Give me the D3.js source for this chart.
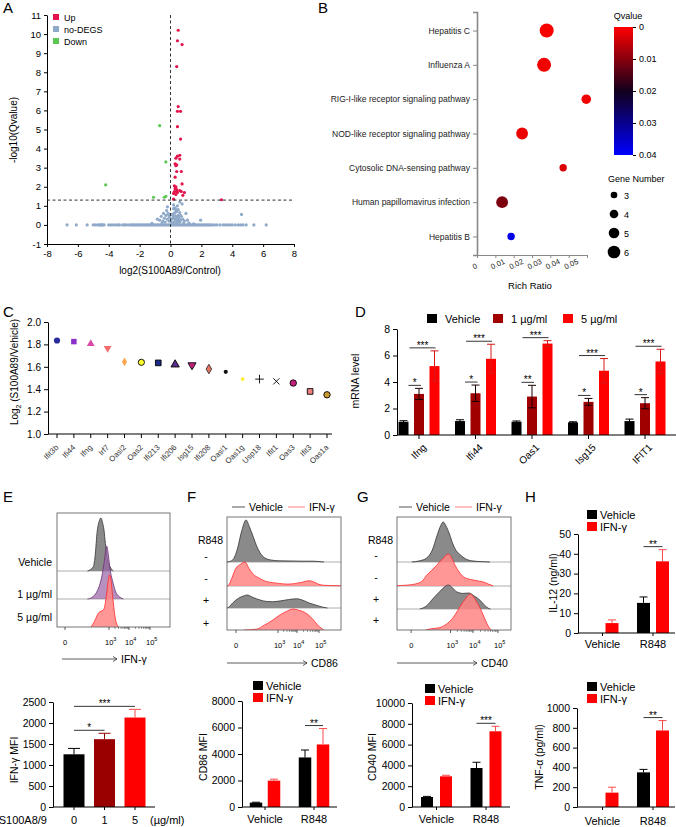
<!DOCTYPE html>
<html>
<head>
<meta charset="utf-8">
<script src="https://cdn.jsdelivr.net/npm/d3@7"></script>
<style>
  body { margin: 0; background: #fff; }
</style>
</head>
<body>
<script>
const FONT = "'Liberation Sans', Arial, Helvetica, sans-serif";

// ---------------- data ----------------
// A: volcano
const volcanoUp = [[0.5,10.2],[0.45,9.65],[0.75,9.45],[0.4,8.3],[0.5,6.2],[0.45,5.95],[0.65,5.95],[0.45,5.15],[0.65,4.5],[0.6,3.65],[0.45,3.6],[0.35,3.5],[0.6,3.45],[0.3,3.2],[0.4,3.15],[0.35,3.1],[0.4,2.8],[0.7,2.8],[0.3,2.5],[0.75,2.15],[0.25,2.05],[0.35,2.0],[0.3,1.9],[0.4,1.85],[0.25,1.75],[0.4,1.75],[0.6,1.8],[0.9,1.7],[0.45,1.7],[0.7,1.75],[0.2,1.65],[0.35,1.6],[0.8,1.55],[0.2,1.35],[3.3,1.32]];
const volcanoDown = [[-0.7,5.2],[-0.3,3.3],[-4.2,2.1],[-1.1,1.45],[-0.4,1.45],[-0.3,1.5]];
const volcanoNone = [
  [-6.7,0],[-6.1,0],[-5.4,0],[-5.0,0],[-4.85,0],[-4.7,0],[-4.6,0],[-4.5,0],[-4.45,0],[-4.4,0],[-4.3,0],[-4.0,0],[-3.85,0],[-3.7,0],[-3.55,0],[-3.4,0],[-3.3,0],[-3.1,0],[-3.0,0],[-2.9,0],[-2.75,0],[-2.6,0],
  [-2.5,0],[-2.4,0],[-2.3,0],[-2.2,0],[-2.1,0],[-2.0,0],[-1.9,0],[-1.8,0],[-1.7,0],[-1.6,0],[-1.5,0],[-1.4,0],[-1.3,0],[-1.2,0],[-1.1,0],[-1.0,0],[-0.9,0],[-0.8,0],[-0.7,0],[-0.6,0],[-0.5,0],[-0.4,0],[-0.3,0],[-0.2,0],[-0.1,0],
  [0,0],[0.1,0],[0.2,0],[0.3,0],[0.4,0],[0.5,0],[0.6,0],[0.7,0],[0.8,0],[0.9,0],[1.0,0],[1.1,0],[1.2,0],[1.3,0],[1.4,0],[1.5,0],[1.6,0],[1.7,0],[1.8,0],[1.9,0],[2.0,0],[2.1,0],[2.2,0],[2.3,0],[2.4,0],[2.5,0],
  [2.6,0],[2.7,0],[2.85,0],[3.0,0],[3.2,0],[3.4,0],[3.55,0],[3.7,0],[3.85,0],[4.0,0],[4.2,0],[4.4,0],[4.55,0],[4.7,0],[4.9,0],[5.4,0],[6.2,0],
  [-1.2,0.08],[-0.85,0.3],[-0.7,0.25],[-0.6,0.45],[-0.55,0.1],[-0.5,0.2],[-0.45,0.6],[-0.4,0.35],[-0.35,0.15],[-0.3,0.5],[-0.25,0.75],[-0.2,0.95],[-0.2,0.3],[-0.15,0.6],[-0.1,0.2],[-0.05,0.4],
  [0.05,0.15],[0.1,0.55],[0.15,0.35],[0.2,0.85],[0.2,1.05],[0.25,0.6],[0.3,0.3],[0.3,0.9],[0.35,0.45],[0.4,0.7],[0.45,0.2],[0.45,1.0],[0.5,0.5],[0.55,0.35],[0.6,0.65],[0.65,0.25],[0.7,0.45],
  [0.75,1.1],[0.8,0.3],[0.85,0.1],[0.9,0.2],[1.0,0.6],[1.1,0.25],[1.2,0.1],[0.6,1.2],[1.5,0.05],[1.95,0.25],[4.6,0.55],[0.25,0.15],[0.35,0.25],[0.4,0.1],[0.5,0.3],[0.55,0.15],[0.15,0.1],
  [0.3,0.65],[0.45,0.4],[0.6,0.15],[0.65,0.5],[0.2,0.45],[0.1,0.3],[-0.1,0.5],[0.35,0.8],[0.5,0.8]
];
const volcanoXTicks = [-8,-6,-4,-2,0,2,4,6,8];
const volcanoYTicks = [-1,0,1,2,3,4,5,6,7,8,9,10,11];

// B: KEGG enrichment
const pathways = ["Hepatitis C","Influenza A","RIG-I-like receptor signaling pathway","NOD-like receptor signaling pathway","Cytosolic DNA-sensing pathway","Human papillomavirus infection","Hepatitis B"];
const richRatio = [0.038,0.0366,0.0596,0.0246,0.047,0.0137,0.0186];
const qvalue = [0.0005,0.001,0.001,0.0015,0.003,0.011,0.038];
const geneNumber = [6,6,4,5,3,5,3];
const richTicks = [0,0.01,0.02,0.03,0.04,0.05,0.06];
const qTicks = [0,0.01,0.02,0.03,0.04];
const geneLegend = [3,4,5,6];

// C: fold change
const cGenes = ["Ifit3b","Ifi44","Ifng","Irf7","Oasl2","Oas2","Ifi213","Ifi206","Isg15","Ifi208","Oasl1","Oas1g","Usp18","Ifit1","Oas3","Ifit3","Oas1a"];
const cValues = [1.835,1.825,1.805,1.765,1.645,1.64,1.635,1.62,1.615,1.58,1.555,1.49,1.49,1.47,1.455,1.38,1.35];
const cTicks = [1.0,1.2,1.4,1.6,1.8,2.0];

// D: qPCR
const dGenes = ["Ifng","Ifi44","Oas1","Isg15","IFIT1"];
const dDoses = ["Vehicle","1 µg/ml","5 µg/ml"];
const dMean = [[1.0,1.05,1.0,0.95,1.05],[3.1,3.15,2.9,2.5,2.4],[5.2,5.75,6.9,4.85,5.55]];
const dErr = [[0.08,0.1,0.06,0.05,0.15],[0.42,0.62,0.85,0.26,0.42],[1.15,1.1,0.22,0.92,0.92]];
const dStarsLow = ["*","*","**","*","*"];
const dStarsHigh = ["***","***","***","***","***"];
const dTicks = [0,2,4,6,8];

// E-G: flow histograms (x in channel units 0-1000 across the plot, y in % of scale)
const eRows = ["Vehicle","1 µg/ml","5 µg/ml"];
const eHist = [
  [[270,0],[321,8],[336,26],[357,77],[375,95],[389,100],[402,92],[416,77],[428,52],[440,30],[455,15],[469,8],[498,0]],
  [[270,0],[310,3],[351,13],[375,25],[395,41],[419,72],[432,92],[440,100],[450,90],[469,57],[498,29],[520,13],[543,6],[587,0]],
  [[300,0],[330,10],[366,26],[390,30],[410,32],[425,42],[440,64],[455,90],[465,98],[475,92],[493,57],[513,20],[530,5],[545,0]]
];
const eTickCh = [71,460,637,823];
const fgRows = ["-","-","+","+"];
const fHist = [
  [[0,0],[20,1],[50,5],[90,30],[130,75],[167,100],[195,85],[230,60],[260,38],[290,22],[330,10],[380,5],[450,3],[550,2.5],[650,2],[750,2],[830,0.5],[850,0]],
  [[0,0],[15,2],[40,17],[80,43],[120,52],[158,57],[190,43],[230,28],[280,19],[340,11],[400,8],[460,6],[530,4.5],[600,6],[660,9],[720,12.5],[760,10],[800,4.5],[850,1.7],[1000,0.5]],
  [[0,0],[15,2],[50,12],[100,23],[150,29],[175,31],[230,25],[290,19],[350,15.5],[406,15],[470,17],[540,20],[611,22],[660,19],[720,12],[790,6],[840,2],[880,0]],
  [[150,0],[260,2],[330,12],[404,24],[460,35],[520,44],[579,50],[630,47],[680,42],[730,32],[770,20],[810,8],[850,0]]
];
const fTickCh = [79,447,614,807];
const gHist = [
  [[130,0],[200,3],[260,10],[310,30],[350,65],[385,92],[406,100],[430,90],[460,70],[490,45],[520,28],[555,18],[600,8],[655,3],[730,1],[816,0]],
  [[0,1],[80,2],[160,5],[220,12],[260,27],[300,38],[348,52],[400,68],[450,80],[480,70],[509,52],[545,35],[582,23],[620,18],[670,15],[720,12],[758,10],[800,5],[845,0]],
  [[200,0],[260,8],[319,27],[380,45],[420,56],[450,60],[490,52],[523,43],[580,39],[630,40],[680,32],[728,22],[770,9],[800,2],[820,0]],
  [[250,0],[300,3],[377,6],[420,12],[465,22],[510,38],[552,58],[600,78],[640,90],[665,85],[700,70],[728,55],[760,35],[787,17],[810,5],[830,0]]
];
const gTickCh = [124,470,667,886];
const flowTickLabels = [["0",""],["10","3"],["10","4"],["10","5"]];

// E-H: bar charts
const eDoses = ["0","1","5"];
const eMean = [1255,1615,2130];
const eErr = [140,140,195];
const stimCats = ["Vehicle","R848"];
const cd86Veh = [330,3740], cd86VehErr = [30,560];
const cd86Ifn = [1990,4720], cd86IfnErr = [110,1200];
const cd40Veh = [960,3750], cd40VehErr = [60,550];
const cd40Ifn = [2950,7280], cd40IfnErr = [100,480];
const il12Veh = [0,15.2], il12VehErr = [0,3];
const il12Ifn = [5,36.2], il12IfnErr = [1.6,5.9];
const tnfVeh = [0,350], tnfVehErr = [0,30];
const tnfIfn = [145,773], tnfIfnErr = [55,100];

// ---------------- drawing ----------------
const svg = d3.select("body").append("svg")
  .attr("width", 676).attr("height", 827)
  .attr("font-family", FONT);

function text(g, x, y, s, size = 10, anchor = "start") {
  return g.append("text").attr("x", x).attr("y", y)
    .attr("font-size", size).attr("text-anchor", anchor).text(s);
}
function vtext(g, x, y, s, size = 10) {
  return g.append("text").attr("transform", `translate(${x},${y}) rotate(-90)`)
    .attr("text-anchor", "middle").attr("font-size", size).text(s);
}
function tidy(a, size, color = "#000") {
  a.attr("font-family", FONT).attr("font-size", size);
  a.selectAll("text").attr("fill", "#000");
  a.selectAll(".domain, .tick line").attr("stroke", color);
  return a;
}

// panel letters
[["A",3,13],["B",318,13],["C",3,317],["D",355,317],["E",3,502],["F",187,502],["G",357,502],["H",525,502]]
  .forEach(([l, x, y]) => text(svg, x, y, l, 15));

// ---- A ----
{
  const g = svg.append("g");
  const x = d3.scaleLinear().domain([-8, 8]).range([47, 294]);
  const y = d3.scaleLinear().domain([-1, 11]).range([244, 15]);
  tidy(g.append("g").attr("transform", "translate(0,244)")
    .call(d3.axisBottom(x).tickValues(volcanoXTicks).tickSize(3).tickSizeOuter(0).tickFormat(d => String(d))), 9.5);
  tidy(g.append("g").attr("transform", "translate(47,0)")
    .call(d3.axisLeft(y).tickValues(volcanoYTicks).tickSize(3).tickSizeOuter(0).tickFormat(d => String(d))), 9.5);

  const pts = [[volcanoNone, "#8fa9c9"], [volcanoDown, "#5cc853"], [volcanoUp, "#e3134b"]];
  pts.forEach(([data, col]) => {
    g.append("g").selectAll("circle").data(data).join("circle")
      .attr("cx", d => x(d[0])).attr("cy", d => y(d[1])).attr("r", 1.6).attr("fill", col);
  });
  g.append("line").attr("x1", x(0)).attr("x2", x(0)).attr("y1", y(11)).attr("y2", y(-1))
    .attr("stroke", "#333").attr("stroke-dasharray", "3,2.5");
  g.append("line").attr("x1", x(-8)).attr("x2", x(8)).attr("y1", y(1.3)).attr("y2", y(1.3))
    .attr("stroke", "#333").attr("stroke-dasharray", "3,2.5");

  [["Up", "#e3134b"], ["no-DEGS", "#8fa9c9"], ["Down", "#5cc853"]].forEach(([n, c], i) => {
    g.append("rect").attr("x", 53).attr("y", 14 + i * 12).attr("width", 6).attr("height", 6).attr("fill", c);
    text(g, 64, 20.5 + i * 12, n, 9);
  });
  text(g, 170, 274, "log2(S100A89/Control)", 10, "middle");
  vtext(g, 17, 130, "-log10(Qvalue)", 10);
}

// ---- B ----
{
  const g = svg.append("g");
  const y = d3.scalePoint().domain(pathways).range([12, 255]).padding(0.54);
  const x = d3.scaleLinear().domain([0, 0.06]).range([477, 587]);
  const r = d3.scaleLinear().domain([3, 6]).range([3.7, 7]);
  const col = d3.scaleLinear().domain([0, 0.02, 0.04]).range(["#ff0000", "#12001c", "#0000ff"]);

  const ya = tidy(g.append("g").attr("transform", "translate(477,0)")
    .call(d3.axisLeft(y).tickSize(4).tickSizeOuter(4)), 8.5, "#888");
  ya.select(".domain").attr("stroke-width", 1.6);
  ya.selectAll("text").attr("fill", "#222");

  const xa = tidy(g.append("g").attr("transform", "translate(0,255)")
    .call(d3.axisBottom(x).tickValues(richTicks).tickSize(3).tickSizeOuter(0)
      .tickFormat(d => d === 0.06 ? "" : (d === 0 ? "0" : d.toFixed(2)))), 7.5, "#888");
  xa.selectAll("text").attr("text-anchor", "start").attr("dy", 0)
    .attr("transform", "translate(-6,9) rotate(-25)").attr("fill", "#222");

  g.append("g").selectAll("circle").data(pathways).join("circle")
    .attr("cx", (d, i) => x(richRatio[i])).attr("cy", d => y(d))
    .attr("r", (d, i) => r(geneNumber[i])).attr("fill", (d, i) => col(qvalue[i]));

  text(g, 530, 289, "Rich Ratio", 9.5, "middle");

  // colour bar
  const grad = svg.append("defs").append("linearGradient").attr("id", "qgrad")
    .attr("x1", 0).attr("x2", 0).attr("y1", 0).attr("y2", 1);
  [0, 0.5, 1].forEach(o => grad.append("stop").attr("offset", o).attr("stop-color", col(o * 0.04)));
  const cy = d3.scaleLinear().domain([0, 0.04]).range([27, 155]);
  g.append("rect").attr("x", 614).attr("y", 27).attr("width", 19).attr("height", 128).attr("fill", "url(#qgrad)");
  const ca = tidy(g.append("g").attr("transform", "translate(633,0)")
    .call(d3.axisRight(cy).tickValues(qTicks).tickSize(3).tickSizeOuter(0)
      .tickFormat(d => d === 0 ? "0" : d.toFixed(2))), 9, "#000");
  ca.select(".domain").remove();
  text(g, 628, 19, "Qvalue", 9, "middle");

  text(g, 608, 182, "Gene Number", 9);
  const ly = d3.scalePoint().domain(geneLegend).range([195, 252]);
  geneLegend.forEach(n => {
    g.append("circle").attr("cx", 614).attr("cy", ly(n)).attr("r", r(n) * 0.9).attr("fill", "#000");
    text(g, 624, ly(n) + 3.5, String(n), 9);
  });
}

// ---- C ----
{
  const g = svg.append("g");
  const x = d3.scalePoint().domain(cGenes).range([57, 327]);
  const y = d3.scaleLinear().domain([1, 2]).range([434, 322]);
  tidy(g.append("g").attr("transform", "translate(48,0)")
    .call(d3.axisLeft(y).tickValues(cTicks).tickSize(4).tickSizeOuter(0).tickFormat(d3.format(".1f"))), 10);
  g.append("line").attr("x1", 48).attr("x2", 332).attr("y1", 434).attr("y2", 434).attr("stroke", "#000");
  g.append("g").selectAll("line").data(cGenes).join("line")
    .attr("x1", d => x(d)).attr("x2", d => x(d)).attr("y1", 434).attr("y2", 438).attr("stroke", "#000");
  g.append("g").selectAll("text").data(cGenes).join("text")
    .attr("transform", d => `translate(${x(d) + 2},${448}) rotate(-45)`)
    .attr("text-anchor", "end").attr("font-size", 7.8).attr("fill", "#333").text(d => d);

  const marks = [
    ["circle", "#2a2a9c", "none", 30], ["square", "#8b2fc9", "none", 30], ["triangle", "#d94aa8", "none", 26],
    ["triDown", "#f26b6b", "none", 26], ["diamond", "#ffa64d", "none", 22], ["circle", "#ffff2e", "#000", 30],
    ["square", "#1c2a8a", "#000", 32], ["triangle", "#5a2d8c", "#000", 30], ["triDown", "#c7217f", "#000", 28],
    ["diamond", "#e8735f", "#333", 26], ["circle", "#111", "none", 14], ["circle", "#ffee33", "none", 12],
    ["plus", "none", "#000", 26], ["times", "none", "#000", 26], ["circle", "#c7217f", "#000", 32],
    ["square", "#f08080", "#000", 32], ["circle", "#c89a30", "#000", 32]
  ];
  const types = {
    circle: d3.symbolCircle, square: d3.symbolSquare, triangle: d3.symbolTriangle, triDown: d3.symbolTriangle,
    diamond: d3.symbolDiamond, plus: d3.symbolPlus || d3.symbolCross, times: d3.symbolTimes || d3.symbolCross
  };
  g.append("g").selectAll("path").data(cGenes).join("path")
    .attr("transform", (d, i) => `translate(${x(d)},${y(cValues[i])})` + (marks[i][0] === "triDown" ? " rotate(180)" : ""))
    .attr("d", (d, i) => d3.symbol(types[marks[i][0]], marks[i][3])())
    .attr("fill", (d, i) => marks[i][1]).attr("stroke", (d, i) => marks[i][2]).attr("stroke-width", 0.9);

  const lab = g.append("text").attr("transform", "translate(18,372) rotate(-90)")
    .attr("text-anchor", "middle").attr("font-size", 10);
  lab.append("tspan").text("Log");
  lab.append("tspan").attr("font-size", 7).attr("dy", 2.5).text("2");
  lab.append("tspan").attr("dy", -2.5).text(" (S100A89/Vehicle)");
}

// ---- D ----
{
  const g = svg.append("g");
  const x0 = d3.scaleBand().domain(dGenes).range([390.75, 673.25]);
  const x1 = d3.scalePoint().domain(dDoses).range([-15.5, 15.5]);
  const y = d3.scaleLinear().domain([0, 8]).range([435, 329]);
  const fills = ["#000", "#a00000", "#ff0000"];
  const errCols = ["#000", "#1a0000", "#d81818"];
  const cx = gname => x0(gname) + x0.bandwidth() / 2;
  const bw = 10, cap = 8;

  dDoses.forEach((dose, i) => {
    const gg = g.append("g");
    gg.selectAll("rect").data(dGenes).join("rect")
      .attr("x", (d) => cx(d) + x1(dose) - bw / 2).attr("width", bw)
      .attr("y", (d, j) => y(dMean[i][j])).attr("height", (d, j) => 435 - y(dMean[i][j]))
      .attr("fill", fills[i]);
    const eg = gg.selectAll("g").data(dGenes).join("g").attr("stroke", errCols[i]).attr("stroke-width", 1);
    eg.append("line").attr("x1", d => cx(d) + x1(dose)).attr("x2", d => cx(d) + x1(dose))
      .attr("y1", (d, j) => y(dMean[i][j] - dErr[i][j])).attr("y2", (d, j) => y(dMean[i][j] + dErr[i][j]));
    [1, -1].forEach(sg => eg.append("line")
      .attr("x1", d => cx(d) + x1(dose) - cap / 2).attr("x2", d => cx(d) + x1(dose) + cap / 2)
      .attr("y1", (d, j) => y(dMean[i][j] + sg * dErr[i][j])).attr("y2", (d, j) => y(dMean[i][j] + sg * dErr[i][j])));
  });

  // significance
  dGenes.forEach((gn, j) => {
    [[1, dStarsLow[j], 5, 2], [2, dStarsHigh[j], 6, 1]].forEach(([k, s, o1, o2]) => {
      const top = Math.max(dMean[0][j] + dErr[0][j], dMean[k][j] + dErr[k][j]);
      const ly = y(top) - 3;
      const xa = cx(gn) + x1(dDoses[0]) + o1, xb = cx(gn) + x1(dDoses[k]) + o2;
      g.append("line").attr("x1", xa).attr("x2", xb).attr("y1", ly).attr("y2", ly).attr("stroke", "#000").attr("stroke-width", 0.8);
      text(g, (xa + xb) / 2, ly + 1, s, 10, "middle");
    });
  });

  tidy(g.append("g").attr("transform", "translate(397,0)")
    .call(d3.axisLeft(y).tickValues(dTicks).tickSize(4).tickSizeOuter(0)), 10.5);
  g.append("line").attr("x1", 397).attr("x2", 676).attr("y1", 435).attr("y2", 435).attr("stroke", "#000");
  g.append("g").selectAll("line").data(dGenes).join("line")
    .attr("x1", d => cx(d)).attr("x2", d => cx(d)).attr("y1", 435).attr("y2", 439).attr("stroke", "#000");
  g.append("g").selectAll("text").data(dGenes).join("text")
    .attr("transform", d => `translate(${cx(d) + 8},${448}) rotate(-45)`)
    .attr("text-anchor", "end").attr("font-size", 10).text(d => d);
  vtext(g, 359, 381, "mRNA level", 10.5);

  const lx = [427, 493, 563];
  dDoses.forEach((d, i) => {
    g.append("rect").attr("x", lx[i]).attr("y", 314).attr("width", 10).attr("height", 9).attr("fill", fills[i]);
    text(g, lx[i] + 18, 323, d, 11);
  });
}

// ---- histograms ----
function histPanel(c) {
  const g = svg.append("g");
  const hx = d3.scaleLinear().domain([0, 1000]).range([c.x, c.x + c.w]);
  const clipId = c.id + "-clip";
  g.append("clipPath").attr("id", clipId).append("rect")
    .attr("x", c.x).attr("y", c.top).attr("width", c.w).attr("height", c.bottom - c.top);
  c.baselines.slice(0, -1).forEach(b => g.append("line").attr("x1", c.x).attr("x2", c.x + c.w)
    .attr("y1", b).attr("y2", b).attr("stroke", "#999").attr("stroke-width", 0.8));
  const inner = g.append("g").attr("clip-path", `url(#${clipId})`);
  c.hists.forEach((h, i) => {
    const b = c.baselines[i];
    const hy = d3.scaleLinear().domain([0, 100]).range([b, b - c.px100]);
    const area = d3.area().x(d => hx(d[0])).y0(b).y1(d => hy(d[1])).curve(d3.curveMonotoneX);
    const line = d3.line().x(d => hx(d[0])).y(d => hy(d[1])).curve(d3.curveMonotoneX);
    inner.append("path").attr("d", area(h)).attr("fill", c.fills[i]).attr("fill-opacity", c.opac[i]);
    inner.append("path").attr("d", line(h)).attr("fill", "none").attr("stroke", c.strokes[i]).attr("stroke-width", 0.8);
  });
  g.append("rect").attr("x", c.x).attr("y", c.top).attr("width", c.w).attr("height", c.bottom - c.top)
    .attr("fill", "none").attr("stroke", "#666").attr("stroke-width", 0.9);

  // ticks
  const t = c.ticks;
  const minor = [];
  for (let k = 1; k < 3; k++) [2,3,4,5,6,7,8,9].forEach(m => minor.push(t[k] + Math.log10(m) * (t[k + 1] - t[k])));
  g.append("g").selectAll("line").data(minor).join("line")
    .attr("x1", d => hx(d)).attr("x2", d => hx(d)).attr("y1", c.bottom).attr("y2", c.bottom + 1.8)
    .attr("stroke", "#333").attr("stroke-width", 0.6);
  g.append("g").selectAll("line").data(t).join("line")
    .attr("x1", d => hx(d)).attr("x2", d => hx(d)).attr("y1", c.bottom).attr("y2", c.bottom + 3)
    .attr("stroke", "#333").attr("stroke-width", 0.8);
  const tl = g.append("g").selectAll("text").data(t).join("text")
    .attr("x", (d, i) => hx(d) - (i ? 4 : 2)).attr("y", c.bottom + 18).attr("font-size", 7.5);
  tl.append("tspan").text((d, i) => flowTickLabels[i][0]);
  tl.append("tspan").attr("dy", -4).attr("font-size", 5.5).text((d, i) => flowTickLabels[i][1]);

  // arrow
  g.append("line").attr("x1", c.arrow[0]).attr("x2", c.arrow[1]).attr("y1", c.arrowY).attr("y2", c.arrowY)
    .attr("stroke", "#333").attr("stroke-width", 0.8);
  g.append("path").attr("d", `M${c.arrow[1]},${c.arrowY} l-4,-2.5 M${c.arrow[1]},${c.arrowY} l-4,2.5`)
    .attr("stroke", "#333").attr("stroke-width", 0.8).attr("fill", "none");
  text(g, c.arrow[1] + 4, c.arrowY + 4, c.marker, 10.5);

  // row labels
  c.rowLabels.forEach((s, i) => text(g, c.labelX, c.labelY[i], s, 10.5, c.labelAnchor));
  if (c.head) text(g, c.head[0], c.head[1], "R848", 10.5, "end");
  if (c.legend) {
    const [lx, ly] = c.legend;
    g.append("line").attr("x1", lx).attr("x2", lx + 13).attr("y1", ly).attr("y2", ly).attr("stroke", "#555");
    text(g, lx + 17, ly + 3.8, "Vehicle", 10.5);
    g.append("line").attr("x1", lx + 56).attr("x2", lx + 73).attr("y1", ly).attr("y2", ly).attr("stroke", "#ff7f7f");
    text(g, lx + 77, ly + 3.8, "IFN-γ", 10.5);
  }
}

const grayF = "#8a8a8a", grayS = "#333";
const redF = "#ff8585", redS = "#ff2a2a";
histPanel({
  id: "e", x: 57, w: 113, top: 513, bottom: 627, baselines: [571, 599, 627], px100: 53,
  hists: eHist, fills: [grayF, "#9a66a6", redF], opac: [1, 0.72, 0.85], strokes: [grayS, "#6a2f73", redS],
  ticks: eTickCh, arrow: [62, 117], arrowY: 659, marker: "IFN-γ",
  rowLabels: eRows, labelX: 52, labelY: [566, 598, 621], labelAnchor: "end"
});
histPanel({
  id: "f", x: 227, w: 114, top: 517, bottom: 630, baselines: [562, 586, 608, 630], px100: 42,
  hists: fHist, fills: [grayF, redF, grayF, redF], opac: [1, 0.85, 1, 0.85], strokes: [grayS, redS, grayS, redS],
  ticks: fTickCh, arrow: [227, 307], arrowY: 663, marker: "CD86",
  rowLabels: fgRows, labelX: 206, labelY: [560, 582, 604, 627], labelAnchor: "middle",
  head: [223, 544], legend: [232, 507]
});
histPanel({
  id: "g", x: 397, w: 114, top: 517, bottom: 630, baselines: [562, 586, 609, 630], px100: 40,
  hists: gHist, fills: [grayF, redF, grayF, redF], opac: [1, 0.85, 1, 0.85], strokes: [grayS, redS, grayS, redS],
  ticks: gTickCh, arrow: [397, 477], arrowY: 663, marker: "CD40",
  rowLabels: fgRows, labelX: 376, labelY: [559, 581, 603, 624], labelAnchor: "middle",
  head: [393, 544], legend: [399, 507]
});

// ---- bar charts ----
function barChart(c) {
  const g = svg.append("g");
  const y = d3.scaleLinear().domain([0, c.max]).range([c.base, c.top]);
  const x = d3.scalePoint().domain(c.cats).range(c.xr);
  const bars = [];
  c.series.forEach((s, i) => s.mean.forEach((m, j) => bars.push({
    cat: c.cats[j], s: i, m, e: s.err[j],
    fill: Array.isArray(s.fill) ? s.fill[j] : s.fill,
    ec: Array.isArray(s.errColor) ? s.errColor[j] : s.errColor
  })));
  const bx = d => x(d.cat) + c.off[d.s];
  g.append("g").selectAll("rect").data(bars).join("rect")
    .attr("x", d => bx(d) - c.bw / 2).attr("width", c.bw)
    .attr("y", d => y(d.m)).attr("height", d => c.base - y(d.m)).attr("fill", d => d.fill);
  const eg = g.append("g").selectAll("g").data(bars.filter(d => d.e > 0)).join("g")
    .attr("stroke", d => d.ec).attr("stroke-width", 1);
  eg.append("line").attr("x1", bx).attr("x2", bx).attr("y1", d => y(d.m)).attr("y2", d => y(d.m + d.e));
  eg.append("line").attr("x1", d => bx(d) - c.cap / 2).attr("x2", d => bx(d) + c.cap / 2)
    .attr("y1", d => y(d.m + d.e)).attr("y2", d => y(d.m + d.e));

  tidy(g.append("g").attr("transform", `translate(${c.ax},0)`)
    .call(d3.axisLeft(y).tickValues(c.ticks).tickSize(4).tickSizeOuter(0).tickFormat(d3.format("d"))), 10.5);
  g.append("line").attr("x1", c.ax).attr("x2", c.xEnd).attr("y1", c.base).attr("y2", c.base).attr("stroke", "#000");
  g.append("g").selectAll("line").data(c.cats).join("line")
    .attr("x1", d => x(d)).attr("x2", d => x(d)).attr("y1", c.base).attr("y2", c.base + 3).attr("stroke", "#000");
  g.append("g").selectAll("text").data(c.cats).join("text")
    .attr("x", d => x(d)).attr("y", c.catY).attr("text-anchor", "middle").attr("font-size", 11).text(d => d);
  vtext(g, c.ylab[0], c.ylab[1], c.ylab[2], 10.5);

  c.sig.forEach(([ca, sa, cb, sb, s]) => {
    const A = bars.find(d => d.cat === ca && d.s === sa), B = bars.find(d => d.cat === cb && d.s === sb);
    const ly = y(Math.max(A.m + A.e, B.m + B.e)) - 3;
    g.append("line").attr("x1", bx(A)).attr("x2", bx(B)).attr("y1", ly).attr("y2", ly).attr("stroke", "#000").attr("stroke-width", 0.8);
    text(g, (bx(A) + bx(B)) / 2, ly + 1, s, 10, "middle");
  });

  if (c.legend) {
    const [lx, ly] = c.legend;
    [["Vehicle", "#000"], ["IFN-γ", "#ff0000"]].forEach(([n, col], i) => {
      g.append("rect").attr("x", lx).attr("y", ly + i * 12).attr("width", 10).attr("height", 9).attr("fill", col);
      text(g, lx + 13, ly + 9 + i * 12, n, 11);
    });
  }
  return g;
}

const pairSeries = (v, ve, r, re) => [
  { mean: v, err: ve, fill: "#000", errColor: "#000" },
  { mean: r, err: re, fill: "#ff0000", errColor: "#ff4a4a" }
];

const eg = barChart({
  max: 2500, base: 807, top: 702, xr: [74, 135], cats: eDoses, off: [0], bw: 21, cap: 12,
  series: [{ mean: eMean, err: eErr, fill: ["#000", "#990000", "#ff0000"], errColor: ["#000", "#990000", "#ff4a4a"] }],
  ticks: [0, 500, 1000, 1500, 2000, 2500], ax: 53, xEnd: 155, catY: 824,
  ylab: [18, 760, "IFN-γ MFI"], sig: [["0", 0, "1", 0, "*"], ["0", 0, "5", 0, "***"]]
});
text(eg, 47, 824, "S100A8/9", 11, "end");
text(eg, 150, 824, "(µg/ml)", 11);

barChart({
  max: 8000, base: 807, top: 701, xr: [265, 314], cats: stimCats, off: [-9, 9], bw: 12.5, cap: 8,
  series: pairSeries(cd86Veh, cd86VehErr, cd86Ifn, cd86IfnErr),
  ticks: [0, 2000, 4000, 6000, 8000], ax: 242, xEnd: 337, catY: 823,
  ylab: [207, 757, "CD86 MFI"], sig: [["R848", 0, "R848", 1, "**"]], legend: [253, 681]
});
barChart({
  max: 10000, base: 807, top: 703, xr: [436.5, 486], cats: stimCats, off: [-9.5, 9.5], bw: 12, cap: 8,
  series: pairSeries(cd40Veh, cd40VehErr, cd40Ifn, cd40IfnErr),
  ticks: [0, 2000, 4000, 6000, 8000, 10000], ax: 412, xEnd: 510, catY: 823,
  ylab: [376, 757, "CD40 MFI"], sig: [["R848", 0, "R848", 1, "***"]], legend: [425, 684]
});
barChart({
  max: 50, base: 633, top: 534, xr: [602.5, 653], cats: stimCats, off: [-9.5, 9.5], bw: 13, cap: 8,
  series: pairSeries(il12Veh, il12VehErr, il12Ifn, il12IfnErr),
  ticks: [0, 10, 20, 30, 40, 50], ax: 578, xEnd: 675, catY: 648,
  ylab: [557, 583, "IL-12 (ng/ml)"], sig: [["R848", 0, "R848", 1, "**"]], legend: [587, 510]
});
barChart({
  max: 1000, base: 807, top: 708, xr: [602.5, 653], cats: stimCats, off: [-9.5, 9.5], bw: 13, cap: 8,
  series: pairSeries(tnfVeh, tnfVehErr, tnfIfn, tnfIfnErr),
  ticks: [0, 200, 400, 600, 800, 1000], ax: 577, xEnd: 675, catY: 825,
  ylab: [543, 757, "TNF-α (pg/ml)"], sig: [["R848", 0, "R848", 1, "**"]], legend: [587, 682]
});
</script>
</body>
</html>
